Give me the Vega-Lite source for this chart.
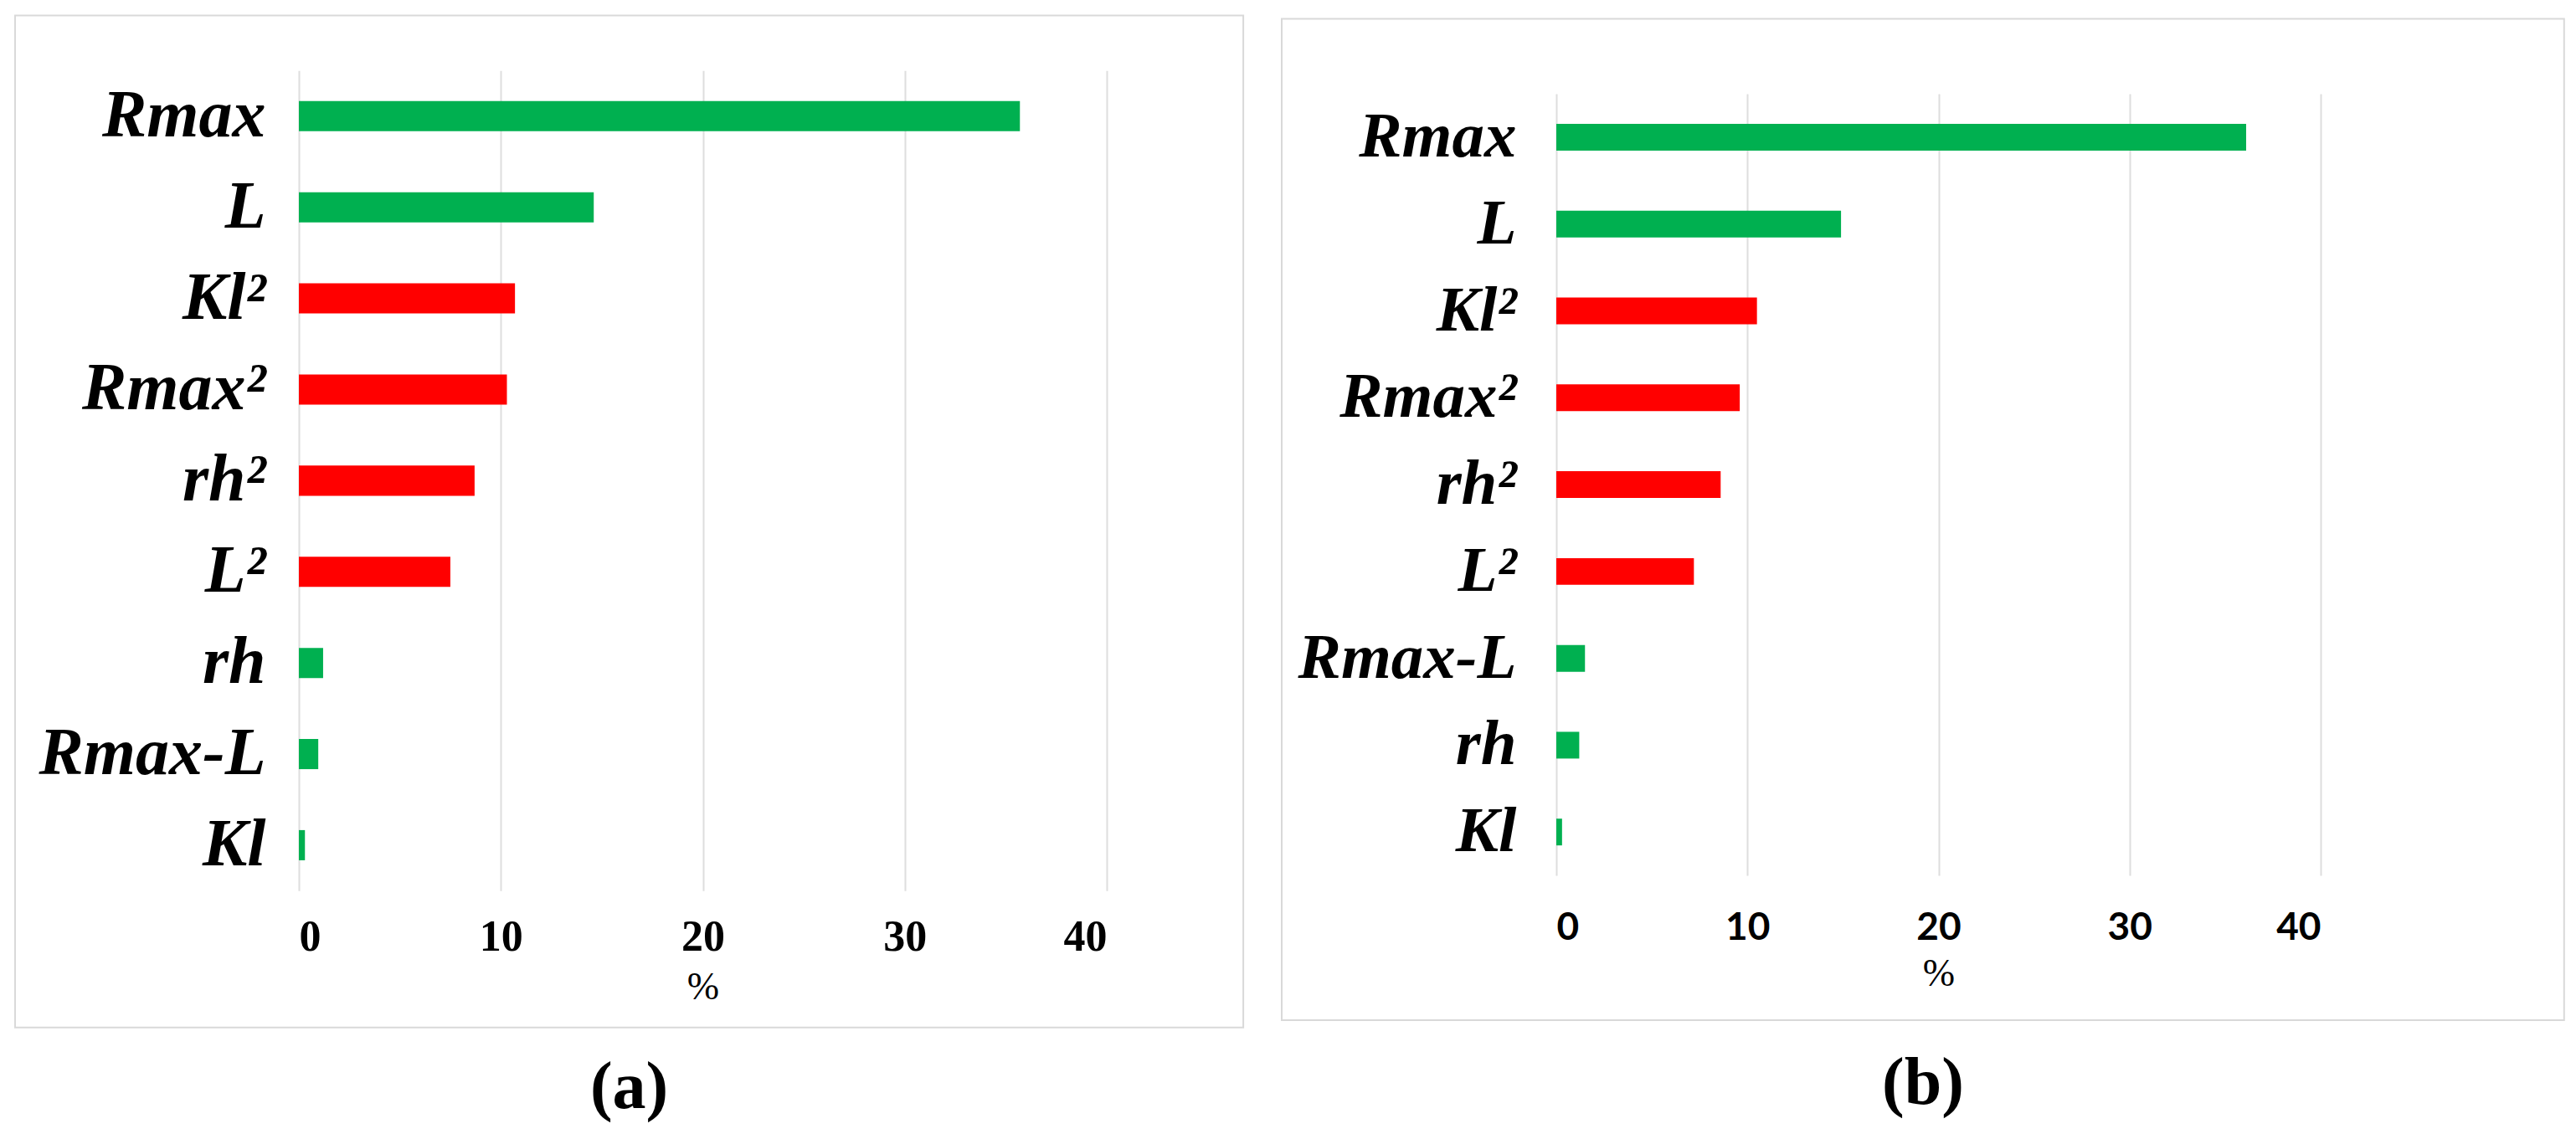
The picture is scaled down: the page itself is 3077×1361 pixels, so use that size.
{
  "$schema": "https://vega.github.io/schema/vega-lite/v6.json",
  "background": "white",
  "padding": {"left": 17, "top": 17, "right": 0, "bottom": 0},
  "spacing": 43,
  "center": true,
  "config": {"view": {"stroke": null}},
  "datasets": {
    "a": [
      {"term": "Rmax", "value": 35.7, "sign": "+"},
      {"term": "L", "value": 14.6, "sign": "+"},
      {"term": "Kl²", "value": 10.7, "sign": "-"},
      {"term": "Rmax²", "value": 10.3, "sign": "-"},
      {"term": "rh²", "value": 8.7, "sign": "-"},
      {"term": "L²", "value": 7.5, "sign": "-"},
      {"term": "rh", "value": 1.2, "sign": "+"},
      {"term": "Rmax-L", "value": 0.96, "sign": "+"},
      {"term": "Kl", "value": 0.3, "sign": "+"}
    ],
    "b": [
      {"term": "Rmax", "value": 36.1, "sign": "+"},
      {"term": "L", "value": 14.9, "sign": "+"},
      {"term": "Kl²", "value": 10.5, "sign": "-"},
      {"term": "Rmax²", "value": 9.6, "sign": "-"},
      {"term": "rh²", "value": 8.6, "sign": "-"},
      {"term": "L²", "value": 7.2, "sign": "-"},
      {"term": "Rmax-L", "value": 1.5, "sign": "+"},
      {"term": "rh", "value": 1.2, "sign": "+"},
      {"term": "Kl", "value": 0.3, "sign": "+"}
    ]
  },
  "hconcat": [
    {
      "title": {"text": "(a)", "subtitle": " ", "subtitleFontSize": 18, "subtitlePadding": 4, "orient": "bottom", "frame": "bounds", "anchor": "middle", "font": "Liberation Serif", "fontSize": 80, "fontWeight": "bold", "color": "black", "offset": 32},
      "width": 965,
      "height": 980,
      "data": {"name": "a"},
      "layer": [
        {
          "data": {"values": [{}]},
          "mark": {"type": "rect", "fill": null, "stroke": "#d9d9d9", "strokeWidth": 2, "clip": false},
          "encoding": {
            "x": {"datum": -14.05, "type": "quantitative"},
            "x2": {"datum": 46.76},
            "y": {"datum": "Rmax", "type": "nominal", "bandPosition": -2.84},
            "y2": {"datum": "Kl", "bandPosition": 6.54}
          }
        },
        {
          "mark": {"type": "bar"},
          "encoding": {
            "y": {
              "field": "term", "type": "nominal",
              "scale": {"domain": ["Rmax", "L", "Kl²", "Rmax²", "rh²", "L²", "rh", "Rmax-L", "Kl"], "paddingInner": 0.669, "paddingOuter": 0.3345},
              "axis": {"title": null, "domain": false, "ticks": false, "grid": false, "labelFont": "Liberation Serif", "labelFontStyle": "italic", "labelFontWeight": "bold", "labelFontSize": 80, "labelColor": "black", "labelPadding": 40, "labelLimit": 1000}
            },
            "x": {
              "field": "value", "type": "quantitative",
              "scale": {"domain": [0, 40]},
              "axis": {"values": [0, 10, 20, 30, 40], "grid": true, "gridColor": "#dedede", "gridWidth": 2, "domain": false, "ticks": false, "labelFont": "Liberation Serif", "labelFontWeight": "bold", "labelFontSize": 52, "labelColor": "black", "labelPadding": 30, "title": "%", "titleFont": "Liberation Serif", "titleFontWeight": "normal", "titleFontSize": 46, "titleColor": "black", "titlePadding": 12}
            },
            "color": {"field": "sign", "type": "nominal", "scale": {"domain": ["+", "-"], "range": ["#00b050", "#ff0000"]}, "legend": null}
          }
        }
      ]
    },
    {
      "title": {"text": "(b)", "orient": "bottom", "frame": "bounds", "anchor": "middle", "font": "Liberation Serif", "fontSize": 80, "fontWeight": "bold", "color": "black", "offset": 36},
      "width": 913,
      "height": 934,
      "data": {"name": "b"},
      "layer": [
        {
          "data": {"values": [{}]},
          "mark": {"type": "rect", "fill": null, "stroke": "#d9d9d9", "strokeWidth": 2, "clip": false},
          "encoding": {
            "x": {"datum": -14.37, "type": "quantitative"},
            "x2": {"datum": 52.74},
            "y": {"datum": "Rmax", "type": "nominal", "bandPosition": -3.93},
            "y2": {"datum": "Kl", "bandPosition": 7.53}
          }
        },
        {
          "mark": {"type": "bar"},
          "encoding": {
            "y": {
              "field": "term", "type": "nominal",
              "scale": {"domain": ["Rmax", "L", "Kl²", "Rmax²", "rh²", "L²", "Rmax-L", "rh", "Kl"], "paddingInner": 0.692, "paddingOuter": 0.346},
              "axis": {"title": null, "domain": false, "ticks": false, "grid": false, "labelFont": "Liberation Serif", "labelFontStyle": "italic", "labelFontWeight": "bold", "labelFontSize": 77, "labelColor": "black", "labelPadding": 48, "labelLimit": 1000}
            },
            "x": {
              "field": "value", "type": "quantitative",
              "scale": {"domain": [0, 40]},
              "axis": {"values": [0, 10, 20, 30, 40], "grid": true, "gridColor": "#dedede", "gridWidth": 2, "domain": false, "ticks": false, "labelFont": "Lato", "labelFontWeight": "bold", "labelFontSize": 46, "labelColor": "black", "labelPadding": 40, "title": "%", "titleFont": "Liberation Serif", "titleFontWeight": "normal", "titleFontSize": 46, "titleColor": "black", "titlePadding": 10}
            },
            "color": {"field": "sign", "type": "nominal", "scale": {"domain": ["+", "-"], "range": ["#00b050", "#ff0000"]}, "legend": null}
          }
        }
      ]
    }
  ]
}
